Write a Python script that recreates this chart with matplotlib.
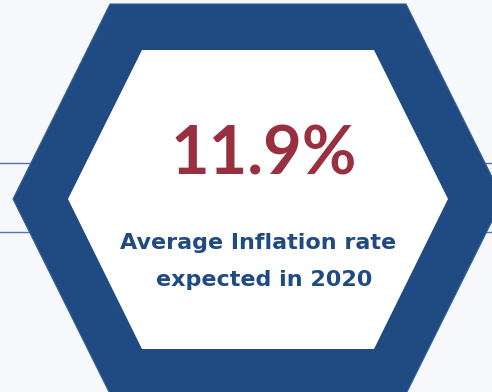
import matplotlib
matplotlib.use("Agg")
import matplotlib.pyplot as plt
from matplotlib.patches import Polygon

# Content
headline = "11.9%"
caption_lines = ["Average Inflation rate", "expected in 2020"]

# Hexagon geometry (pixel coordinates, y downward)
outer_hex = [(110, 4), (406, 4), (503, 199), (406, 394), (110, 394), (13, 199)]
inner_hex = [(142, 50), (374, 50), (448, 199), (374, 349), (142, 349), (68, 199)]
line_levels = [163, 232]

bg = "#f6f8fb"
blue = "#1f4a82"
red = "#983040"
line_blue = "#4a74c0"

fig = plt.figure(figsize=(4.92, 3.92), dpi=100)
fig.patch.set_facecolor(bg)
ax = fig.add_axes([0, 0, 1, 1])
ax.set_xlim(0, 492)
ax.set_ylim(392, 0)
ax.axis("off")
ax.set_facecolor(bg)

for y in line_levels:
    ax.plot([0, 492], [y, y], color=line_blue, lw=1.0, zorder=1)

ax.add_patch(Polygon(outer_hex, closed=True, facecolor=blue, edgecolor="#3a5f95", lw=0.8, zorder=2))
ax.add_patch(Polygon(inner_hex, closed=True, facecolor="white", edgecolor="none", zorder=3))

ax.text(264, 155, headline, color=red, fontsize=48, fontweight="bold",
        family=["Lato", "DejaVu Sans"], ha="center", va="center", zorder=4)
ax.text(258, 243, caption_lines[0], color=blue, fontsize=16, fontweight="bold",
        family=["DejaVu Sans"], ha="center", va="center", zorder=4)
ax.text(264, 280, caption_lines[1], color=blue, fontsize=16, fontweight="bold",
        family=["DejaVu Sans"], ha="center", va="center", zorder=4)

fig.savefig("out.png", dpi=100, facecolor=bg)
